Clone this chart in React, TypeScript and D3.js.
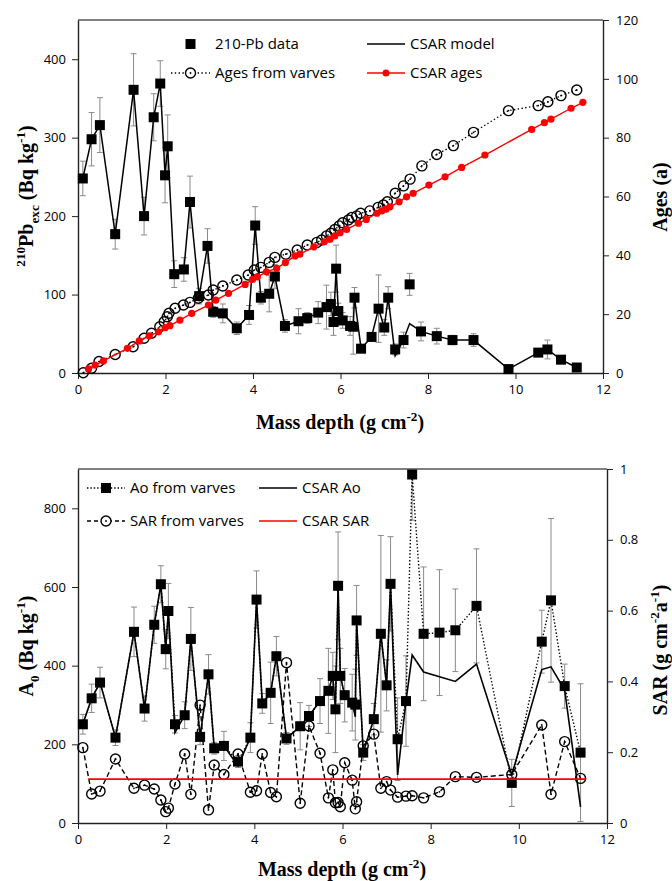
import React, { useEffect, useRef } from 'react'
import * as d3 from 'd3'

// sample depths (g cm-2), shared by both panels
const depth = [0.11, 0.31, 0.50, 0.85, 1.27, 1.51, 1.73, 1.88, 1.99, 2.05, 2.20, 2.42, 2.56, 2.77, 2.96, 3.09, 3.31, 3.63, 3.91, 4.05, 4.18, 4.37, 4.50, 4.73, 5.04, 5.24, 5.49, 5.68, 5.78, 5.84, 5.90, 5.95, 6.05, 6.22, 6.29, 6.32, 6.47, 6.71, 6.87, 7.00, 7.09, 7.25, 7.44, 7.58, 7.84, 8.20, 8.56, 9.04, 9.84, 10.52, 10.73, 11.04, 11.40]

// top panel
const pbData = [248, 298, 316, 177, 361, 200, 326, 369, 252, 289, 126, 132, 218, 98, 162, 78, 76, 57, 74, 188, 96, 101, 123, 60, 66, 70, 77, 84, 88, 65, 133, 79, 67, 60, 59, 96, 31, 46, 82, 58, 96, 30, 42, 113, 53, 47, 42, 42, 5, 26, 30, 17, 7]
const pbErr = [22, 34, 35, 19, 46, 24, 30, 29, 35, 40, 17, 15, 33, 10, 22, 7, 12, 8, 12, 24, 8, 23, 15, 8, 16, 7, 14, 28, 15, 17, 30, 10, 10, 12, 35, 13, 5, 5, 43, 10, 14, 7, 10, 14, 12, 10, 6, 8, 3, 4, 12, 3, 5]
const pbModel = [248, 298, 316, 177, 361, 200, 326, 369, 252, 289, 126, 132, 218, 98, 162, 78, 76, 57, 74, 188, 96, 101, 123, 60, 66, 70, 77, 84, 88, 65, 133, 79, 67, 60, 59, 96, 31, 46, 82, 58, 96, 22, 42, 63, 53, 47, 42, 42, 5, 26, 30, 17, 7]

const varveDepth = [0.12, 0.31, 0.48, 0.85, 1.26, 1.51, 1.68, 1.87, 1.97, 2.04, 2.08, 2.22, 2.41, 2.56, 2.75, 2.98, 3.09, 3.31, 3.63, 3.89, 4.03, 4.18, 4.37, 4.50, 4.75, 5.01, 5.24, 5.46, 5.57, 5.68, 5.78, 5.87, 5.97, 6.05, 6.18, 6.26, 6.37, 6.46, 6.67, 6.86, 6.98, 7.07, 7.25, 7.44, 7.59, 7.86, 8.20, 8.58, 9.04, 9.84, 10.52, 10.74, 11.04, 11.40]
const varveAge = [0.1, 1.6, 3.9, 6.3, 8.9, 11.8, 13.5, 15.7, 17.4, 19.1, 20.3, 22, 23.1, 24, 25.4, 26.5, 28.2, 29.6, 31.6, 33.3, 35, 35.9, 37.6, 39.3, 40.4, 41.8, 43.5, 44.4, 45.2, 46.6, 47.5, 48.8, 50, 51.1, 52, 52.9, 53.4, 54.3, 55.1, 56.3, 57.1, 58.2, 61.1, 63.6, 65.9, 70.4, 74.3, 77.3, 81.8, 89.2, 90.9, 92.2, 94.3, 96.2]

const csarDepth = [0.24, 0.39, 0.58, 1.13, 1.40, 1.63, 1.84, 1.99, 2.10, 2.33, 2.60, 2.98, 3.15, 3.44, 3.82, 3.99, 4.10, 4.31, 4.54, 4.74, 4.96, 5.07, 5.39, 5.63, 5.76, 5.87, 5.99, 6.14, 6.41, 6.59, 6.83, 6.94, 7.04, 7.13, 7.34, 7.51, 7.66, 8.02, 8.39, 8.77, 9.30, 10.37, 10.66, 10.81, 11.27, 11.54]
const csarAge = [1.4, 2.7, 4.1, 8.4, 10.9, 12.6, 14, 15.4, 16.1, 18, 20.3, 23.1, 24.8, 27.1, 30.1, 31.8, 32.7, 34.4, 35.6, 37.5, 39.8, 40.4, 42.9, 44.6, 45.5, 46.6, 47.7, 48.8, 50.9, 52.2, 54.3, 55.1, 55.7, 56.5, 58.2, 59.9, 61.1, 63.9, 66.7, 69.9, 74.1, 82.8, 85.1, 86.3, 90, 92]

// bottom panel
const aoVarve = [251, 317, 357, 217, 486, 291, 504, 607, 442, 539, 251, 274, 468, 219, 378, 190, 196, 156, 217, 568, 304, 331, 424, 215, 246, 272, 310, 336, 374, 289, 603, 374, 325, 306, 301, 515, 179, 264, 481, 350, 608, 213, 310, 886, 481, 484, 490, 552, 102, 461, 566, 348, 179]
const aoErr = [25, 36, 39, 20, 63, 32, 47, 47, 50, 70, 22, 34, 80, 20, 50, 15, 37, 15, 38, 73, 25, 78, 50, 15, 60, 27, 57, 108, 60, 110, 137, 70, 68, 72, 90, 89, 20, 40, 250, 65, 120, 105, 115, 116, 170, 160, 105, 145, 60, 80, 208, 56, 175]
const aoCsar = [251, 317, 357, 217, 486, 291, 504, 607, 442, 539, 230, 274, 468, 219, 378, 190, 196, 145, 217, 568, 304, 331, 424, 215, 246, 272, 310, 336, 374, 289, 603, 374, 325, 306, 270, 515, 179, 264, 481, 350, 608, 122, 310, 427, 384, 372, 360, 404, 122, 390, 397, 338, 41]
const sarVarve = [0.213, 0.082, 0.090, 0.181, 0.098, 0.107, 0.096, 0.065, 0.032, 0.042, 0.110, 0.195, 0.081, 0.333, 0.037, 0.164, 0.137, 0.195, 0.087, 0.091, 0.195, 0.086, 0.074, 0.453, 0.056, 0.274, 0.197, 0.071, 0.150, 0.057, 0.058, 0.046, 0.170, 0.121, 0.040, 0.060, 0.218, 0.251, 0.098, 0.117, 0.093, 0.073, 0.076, 0.077, 0.071, 0.088, 0.131, 0.129, 0.137, 0.277, 0.081, 0.230, 0.126]
const sarCsarDepth = [0.23, 11.53]
const sarCsar = [0.124, 0.124]

const xTicks = [0, 2, 4, 6, 8, 10, 12]
const pbTicks = [0, 100, 200, 300, 400]
const ageTicks = [0, 20, 40, 60, 80, 100, 120]
const aoTicks = [0, 200, 400, 600, 800]
const sarTicks = [0, 0.2, 0.4, 0.6, 0.8, 1]

const sans = '"Open Sans", "Noto Sans", sans-serif'
const serif = '"Liberation Serif", "Times New Roman", serif'

function richText(g, x, y, parts, size, rotate) {
    let text = g.append('text')
        .attr('transform', `translate(${x},${y}) rotate(${rotate})`)
        .attr('text-anchor', 'middle')
        .attr('font-family', serif)
        .attr('font-weight', 'bold')
        .attr('font-size', size)
    let shift = 0
    parts.forEach(p => {
        let target = p.s === 'sup' ? -size * 0.42 : p.s === 'sub' ? size * 0.28 : 0
        text.append('tspan')
            .attr('dy', target - shift)
            .attr('font-size', p.s ? size * 0.66 : size)
            .text(p.t)
        shift = target
    })
}

function styleAxis(g) {
    g.selectAll('text').attr('font-family', sans).attr('font-size', 13).attr('fill', '#000')
    g.select('.domain').attr('stroke', '#222').attr('stroke-width', 1.4)
    g.selectAll('.tick line').attr('stroke', '#222')
}

// grey whiskers, clipped to the axis range like the original
function errorBars(g, xs, ys, errs, x, y) {
    let [lo, hi] = y.domain()
    let eb = g.append('g').attr('stroke', '#8a8a8a').attr('stroke-width', 1)
    xs.forEach((d, i) => {
        let a = ys[i] - errs[i], b = ys[i] + errs[i]
        let cx = x(d), y1 = y(Math.max(lo, a)), y2 = y(Math.min(hi, b))
        eb.append('line').attr('x1', cx).attr('x2', cx).attr('y1', y1).attr('y2', y2)
        if (a >= lo) eb.append('line').attr('x1', cx - 3).attr('x2', cx + 3).attr('y1', y1).attr('y2', y1)
        if (b <= hi) eb.append('line').attr('x1', cx - 3).attr('x2', cx + 3).attr('y1', y2).attr('y2', y2)
    })
}

function squares(g, xs, ys, x, y) {
    g.append('g').selectAll('rect').data(xs).join('rect')
        .attr('x', d => x(d) - 5)
        .attr('y', (d, i) => y(ys[i]) - 5)
        .attr('width', 10).attr('height', 10)
        .attr('fill', '#000')
}

function circles(g, xs, ys, x, y) {
    let c = g.append('g')
    c.selectAll('circle.o').data(xs).join('circle')
        .attr('class', 'o')
        .attr('cx', d => x(d)).attr('cy', (d, i) => y(ys[i]))
        .attr('r', 5).attr('fill', 'none').attr('stroke', '#000').attr('stroke-width', 1.4)
    c.selectAll('circle.c').data(xs).join('circle')
        .attr('class', 'c')
        .attr('cx', d => x(d)).attr('cy', (d, i) => y(ys[i]))
        .attr('r', 0.9).attr('fill', '#000')
}

function pathOf(g, xs, ys, x, y) {
    let line = d3.line().x(d => x(d[0])).y(d => y(d[1]))
    return g.append('path').attr('d', line(xs.map((d, i) => [d, ys[i]]))).attr('fill', 'none')
}

function legendRow(g, x0, x1, y, label, kind) {
    let p = g.append('line').attr('x1', x0).attr('x2', x1).attr('y1', y).attr('y2', y)
    if (kind.line === 'none') p.attr('stroke', 'none')
    else p.attr('stroke', kind.color || '#000').attr('stroke-width', kind.width || 1.4).attr('stroke-dasharray', kind.dash || null)
    let mx = (x0 + x1) / 2
    if (kind.marker === 'square') g.append('rect').attr('x', mx - 5).attr('y', y - 5).attr('width', 10).attr('height', 10)
    if (kind.marker === 'circle') {
        g.append('circle').attr('cx', mx).attr('cy', y).attr('r', 5).attr('fill', '#fff').attr('stroke', '#000').attr('stroke-width', 1.4)
        g.append('circle').attr('cx', mx).attr('cy', y).attr('r', 0.9)
    }
    if (kind.marker === 'dot') g.append('circle').attr('cx', mx).attr('cy', y).attr('r', 3.5).attr('fill', '#f00')
    g.append('text').attr('x', x1 + 5).attr('y', y + 5).attr('font-family', sans).attr('font-size', 15).text(label)
}

function drawChart(svg) {
    svg.selectAll('*').remove()

    // ---- top panel
    let x = d3.scaleLinear().domain([0, 12]).range([78, 603])
    let yPb = d3.scaleLinear().domain([0, 450]).range([373, 20])
    let yAge = d3.scaleLinear().domain([0, 120]).range([373, 20])
    let top = svg.append('g')

    top.append('line').attr('x1', 78).attr('x2', 603).attr('y1', 20).attr('y2', 20).attr('stroke', '#000')
    top.append('g').attr('transform', 'translate(0,373)')
        .call(d3.axisBottom(x).tickValues(xTicks).tickSize(6).tickSizeOuter(0).tickPadding(6)).call(styleAxis)
    top.append('g').attr('transform', 'translate(78,0)')
        .call(d3.axisLeft(yPb).tickValues(pbTicks).tickSize(6).tickSizeOuter(0).tickPadding(6)).call(styleAxis)
    top.append('g').attr('transform', 'translate(603,0)')
        .call(d3.axisRight(yAge).tickValues(ageTicks).tickSize(6).tickSizeOuter(0).tickPadding(7)).call(styleAxis)

    errorBars(top, depth, pbData, pbErr, x, yPb)
    pathOf(top, depth, pbModel, x, yPb).attr('stroke', '#000').attr('stroke-width', 1.5)
    squares(top, depth, pbData, x, yPb)
    pathOf(top, varveDepth, varveAge, x, yAge).attr('stroke', '#000').attr('stroke-width', 1.4).attr('stroke-dasharray', '1.4 2.4')
    circles(top, varveDepth, varveAge, x, yAge)
    pathOf(top, csarDepth, csarAge, x, yAge).attr('stroke', '#f00').attr('stroke-width', 1.4)
    top.append('g').selectAll('circle').data(csarDepth).join('circle')
        .attr('cx', d => x(d)).attr('cy', (d, i) => yAge(csarAge[i])).attr('r', 3.6).attr('fill', '#f00')

    let lt = top.append('g')
    legendRow(lt, 171, 210, 44, '210-Pb data', { line: 'none', marker: 'square' })
    legendRow(lt, 171, 210, 73, 'Ages from varves', { dash: '1.4 2.4', marker: 'circle' })
    legendRow(lt, 367, 405, 44, 'CSAR model', {})
    legendRow(lt, 367, 405, 73, 'CSAR ages', { color: '#f00', marker: 'dot' })

    richText(top, 340, 429, [{ t: 'Mass depth (g cm' }, { t: '-2', s: 'sup' }, { t: ')' }], 20, 0)
    richText(top, 33, 196, [{ t: '210', s: 'sup' }, { t: 'Pb' }, { t: 'exc', s: 'sub' }, { t: ' (Bq kg' }, { t: '-1', s: 'sup' }, { t: ')' }], 20, -90)
    richText(top, 667, 197, [{ t: 'Ages (a)' }], 20, -90)

    // ---- bottom panel
    let xb = d3.scaleLinear().domain([0, 12]).range([78, 607])
    let yAo = d3.scaleLinear().domain([0, 900]).range([823, 469])
    let ySar = d3.scaleLinear().domain([0, 1]).range([823, 469])
    let bot = svg.append('g')

    bot.append('line').attr('x1', 78).attr('x2', 607).attr('y1', 469).attr('y2', 469).attr('stroke', '#000')
    bot.append('g').attr('transform', 'translate(0,823)')
        .call(d3.axisBottom(xb).tickValues(xTicks).tickSize(6).tickSizeOuter(0).tickPadding(6)).call(styleAxis)
    bot.append('g').attr('transform', 'translate(78,0)')
        .call(d3.axisLeft(yAo).tickValues(aoTicks).tickSize(6).tickSizeOuter(0).tickPadding(6)).call(styleAxis)
    bot.append('g').attr('transform', 'translate(607,0)')
        .call(d3.axisRight(ySar).tickValues(sarTicks).tickFormat(d3.format('')).tickSize(6).tickSizeOuter(0).tickPadding(7)).call(styleAxis)

    errorBars(bot, depth, aoVarve, aoErr, xb, yAo)
    pathOf(bot, depth, aoCsar, xb, yAo).attr('stroke', '#000').attr('stroke-width', 1.6)
    pathOf(bot, depth, aoVarve, xb, yAo).attr('stroke', '#000').attr('stroke-width', 1.4).attr('stroke-dasharray', '1.4 2')
    squares(bot, depth, aoVarve, xb, yAo)
    pathOf(bot, depth, sarVarve, xb, ySar).attr('stroke', '#000').attr('stroke-width', 1.4).attr('stroke-dasharray', '5 3')
    circles(bot, depth, sarVarve, xb, ySar)
    pathOf(bot, sarCsarDepth, sarCsar, xb, ySar).attr('stroke', '#f00').attr('stroke-width', 1.8)

    let lb = bot.append('g')
    legendRow(lb, 87, 125, 488, 'Ao from varves', { dash: '1.4 2', marker: 'square' })
    legendRow(lb, 87, 125, 521, 'SAR from varves', { dash: '4 3', marker: 'circle' })
    legendRow(lb, 259, 297, 488, 'CSAR Ao', { width: 1.6 })
    legendRow(lb, 259, 297, 521, 'CSAR SAR', { color: '#f00', width: 1.6 })

    richText(bot, 342, 876, [{ t: 'Mass depth (g cm' }, { t: '-2', s: 'sup' }, { t: ')' }], 20, 0)
    richText(bot, 33, 646, [{ t: 'A' }, { t: '0', s: 'sub' }, { t: ' (Bq kg' }, { t: '-1', s: 'sup' }, { t: ')' }], 20, -90)
    richText(bot, 667, 650, [{ t: 'SAR (g cm' }, { t: '-2', s: 'sup' }, { t: 'a' }, { t: '-1', s: 'sup' }, { t: ')' }], 20, -90)
}

export default function App() {
    const ref = useRef(null)
    useEffect(() => {
        drawChart(d3.select(ref.current))
    }, [])
    return (
        <svg ref={ref} width={672} height={881}
            style={{ position: 'absolute', left: 0, top: 0, background: '#fff' }} />
    )
}
